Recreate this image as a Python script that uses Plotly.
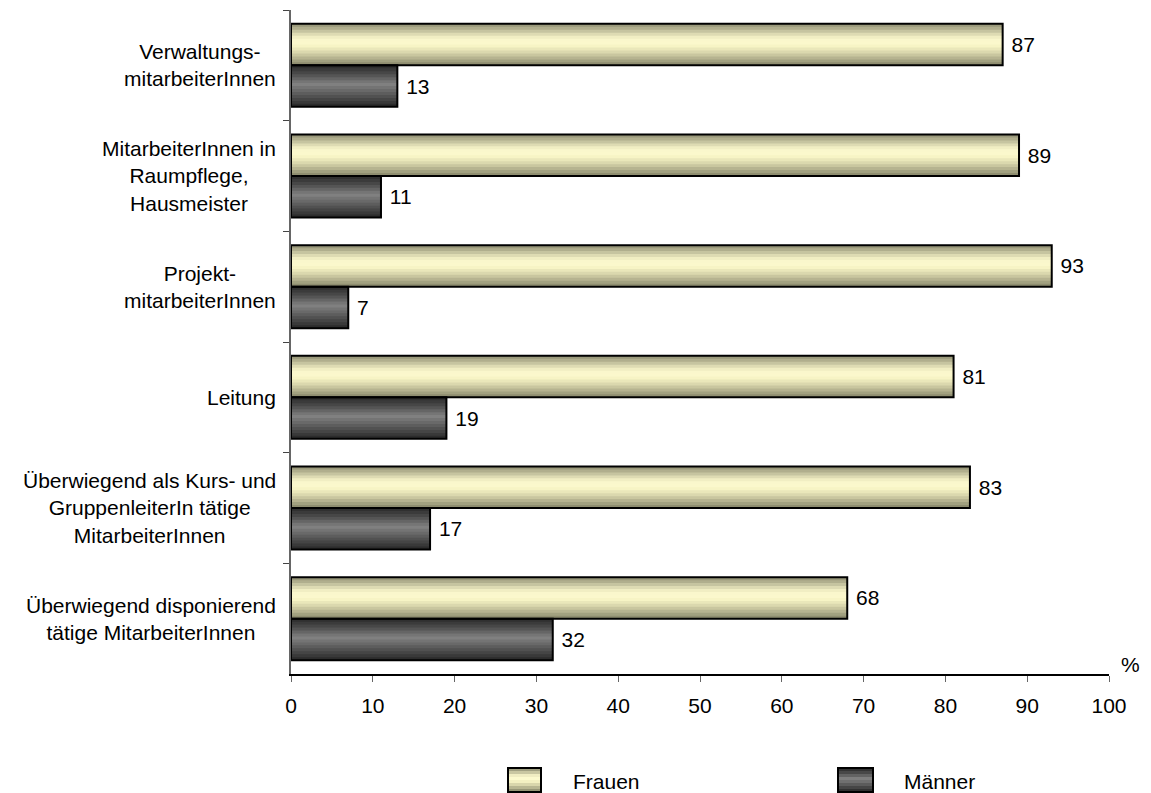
import plotly.graph_objects as go

categories = [
    "Verwaltungs-<br>mitarbeiterInnen",
    "MitarbeiterInnen in<br>Raumpflege,<br>Hausmeister",
    "Projekt-<br>mitarbeiterInnen",
    "Leitung",
    "Überwiegend als Kurs- und<br>GruppenleiterIn tätige<br>MitarbeiterInnen",
    "Überwiegend disponierend<br>tätige MitarbeiterInnen",
]
frauen = [87, 89, 93, 81, 83, 68]
maenner = [13, 11, 7, 19, 17, 32]
series_names = ["Frauen", "Männer"]
x_ticks = list(range(0, 101, 10))

FONT = "Arial, Liberation Sans, sans-serif"
FS = 21

# gradient profiles (top -> bottom)
prof_f = [(0.0, "#8f8e72"), (0.15, "#bdbb98"), (0.3, "#eeebc0"), (0.42, "#fdfbd0"),
          (0.55, "#f6f3c4"), (0.7, "#d6d3aa"), (0.85, "#aeac8a"), (1.0, "#858468")]
prof_m = [(0.0, "#2a2a2a"), (0.2, "#4a4a4a"), (0.45, "#828282"), (0.7, "#5a5a5a"),
          (1.0, "#262626")]


def hex2rgb(h):
    h = h.lstrip("#")
    return tuple(int(h[i:i + 2], 16) for i in (0, 2, 4))


def interp(prof, t):
    for (t0, c0), (t1, c1) in zip(prof[:-1], prof[1:]):
        if t0 <= t <= t1:
            a = (t - t0) / (t1 - t0) if t1 > t0 else 0
            r0, g0, b0 = hex2rgb(c0)
            r1, g1, b1 = hex2rgb(c1)
            return "rgb(%d,%d,%d)" % (round(r0 + (r1 - r0) * a), round(g0 + (g1 - g0) * a),
                                      round(b0 + (b1 - b0) * a))
    return prof[-1][1]


fig = go.Figure()
W = 0.375
N = 14
for vals, base, prof in [(frauen, -W, prof_f), (maenner, 0.0, prof_m)]:
    for j in range(N):
        t = (j + 0.5) / N
        off = base + j * W / N
        wid = min(2.0 * W / N, base + W - off)
        fig.add_trace(go.Bar(
            y=categories, x=vals, orientation="h",
            offset=off, width=wid,
            marker=dict(color=interp(prof, t), line=dict(width=0)),
            showlegend=False, hoverinfo="skip",
        ))

for name, vals, base in [(series_names[0], frauen, -W), (series_names[1], maenner, 0.0)]:
    fig.add_trace(go.Bar(
        name=name, y=categories, x=vals, orientation="h",
        offset=base, width=W,
        marker=dict(color="rgba(0,0,0,0)", line=dict(color="black", width=2)),
        text=vals, texttemplate="\u00a0%{x}", textposition="outside",
        textfont=dict(family=FONT, size=FS, color="black"),
        cliponaxis=False, showlegend=False,
    ))

# category labels as centred multi-line annotations
annotations = []
for c in categories:
    annotations.append(dict(
        x=0, xref="paper", y=c, yref="y", xanchor="right", yanchor="middle",
        xshift=-13, text=c, showarrow=False, align="center",
        font=dict(family=FONT, size=FS, color="black"),
    ))

PW, PH = 818.0, 664.0
def px(xp):
    return (xp - 291) / PW
def py(yp):
    return (674 - yp) / PH

annotations.append(dict(x=px(1130), xref="paper", y=py(664), yref="paper", text="%",
                        showarrow=False, xanchor="center", yanchor="middle",
                        font=dict(family=FONT, size=FS, color="black")))

# manual legend
shapes = []
legend_items = [(series_names[0], prof_f, 508, 541, 571), (series_names[1], prof_m, 838, 873, 902)]
K = 8
for name, prof, x0, x1, tx in legend_items:
    y0, y1 = 768, 792
    for k in range(K):
        ya = y0 + (y1 - y0) * k / K
        yb = y0 + (y1 - y0) * (k + 1) / K
        shapes.append(dict(type="rect", xref="paper", yref="paper",
                           x0=px(x0), x1=px(x1), y0=py(yb + 0.5), y1=py(ya),
                           fillcolor=interp(prof, (k + 0.5) / K), line=dict(width=0),
                           layer="above"))
    shapes.append(dict(type="rect", xref="paper", yref="paper",
                       x0=px(x0), x1=px(x1), y0=py(y1), y1=py(y0),
                       fillcolor="rgba(0,0,0,0)", line=dict(color="black", width=2),
                       layer="above"))
    annotations.append(dict(x=px(tx), xref="paper", y=py(781), yref="paper", text=name,
                            showarrow=False, xanchor="left", yanchor="middle",
                            font=dict(family=FONT, size=FS, color="black")))

fig.update_layout(
    width=1151, height=793,
    margin=dict(l=291, r=42, t=10, b=119, autoexpand=False),
    paper_bgcolor="white", plot_bgcolor="white",
    barmode="overlay",
    font=dict(family=FONT, size=FS, color="black"),
    xaxis=dict(range=[0, 100], tickvals=x_ticks, ticktext=[str(v) for v in x_ticks],
               ticks="outside", ticklen=6, tickcolor="#666", tickwidth=1,
               showline=True, linecolor="black", linewidth=1.5,
               showgrid=False, zeroline=False, ticklabelstandoff=6,
               tickfont=dict(family=FONT, size=FS, color="black")),
    yaxis=dict(type="category", categoryorder="array", categoryarray=categories,
               range=[5.5, -0.5], showticklabels=False,
               ticks="outside", tickson="boundaries", ticklen=6, tickcolor="#444",
               showline=True, linecolor="#666", linewidth=1.5, showgrid=False),
    annotations=annotations, shapes=shapes,
)

fig.write_html("out.html")
